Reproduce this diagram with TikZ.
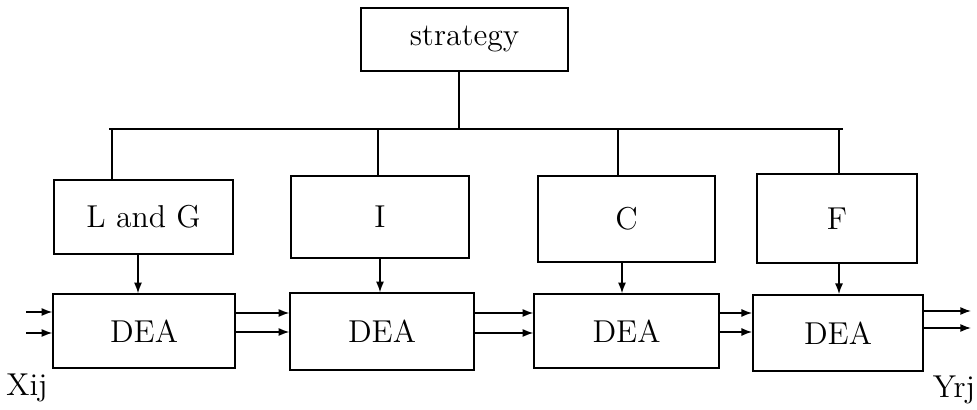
\documentclass[tikz,border=0pt]{standalone}
\usepackage{tikz}
\usetikzlibrary{arrows.meta,positioning,calc}

\begin{document}
\begin{tikzpicture}[x=0.015cm, y=-0.015cm,
                font=\fontsize{13.5}{15.5}\selectfont,
                blk/.style={draw, line width=0.6pt, inner sep=0pt, align=center},
                link/.style={line width=0.6pt},
                bus/.style={-{Latex[length=1.6mm,width=1.2mm]}, line width=0.6pt},
                mainbus/.style={line width=0.9pt}
            ]
            \useasboundingbox (0,0) rectangle (977,410);
            % top level
            \node[blk, minimum width=3.1cm, minimum height=0.945cm] (strat) at (464.5,39.5) {strategy};
            \coordinate (busL) at (109,129);
            \coordinate (busR) at (843,129);
            % second row
            \node[blk, minimum width=2.685cm, minimum height=1.11cm] (lg) at (143.5,217) {L and G};
            \node[blk, line width=0.75pt, minimum width=2.67cm, minimum height=1.23cm] (ii) at (380,217) {I};
            \node[blk, minimum width=2.655cm, minimum height=1.29cm] (cc) at (626.5,219) {C};
            \node[blk, line width=0.75pt, minimum width=2.4cm, minimum height=1.335cm] (ff) at (837,218.5) {F};
            % DEA chain
            \node[blk, minimum width=2.73cm, minimum height=1.11cm] (dea1) at (144,331) {DEA};
            \node[blk, minimum width=2.76cm, minimum height=1.155cm] (dea2) at (382,331.5) {DEA};
            \node[blk, minimum width=2.775cm, minimum height=1.11cm] (dea3) at (626.5,331) {DEA};
            \node[blk, line width=0.75pt, minimum width=2.55cm, minimum height=1.14cm] (dea4) at (838,333) {DEA};
            \node (xin) at (27,388) {Xij};
            \node (yout) at (954,390) {Yrj};
            \coordinate (in1) at (26,312);
            \coordinate (in2) at (26,333);
            \coordinate (out1) at (971,311);
            \coordinate (out2) at (971,328);
            % tree
            \draw[link] (strat.south -| 459,0) -- (busL -| 459,0);
            \draw[mainbus] (busL) -- (busR);
            \draw[link] (busL -| 112,0) -- (lg.north -| 112,0);
            \draw[link] (busL -| 378,0) -- (ii.north -| 378,0);
            \draw[link] (busL -| 618,0) -- (cc.north -| 618,0);
            \draw[link] (busL -| 839,0) -- (ff.north -| 839,0);
            \draw[bus] (lg.south -| 138,0) -- (dea1.north -| 138,0);
            \draw[bus] (ii.south -| 380,0) -- (dea2.north -| 380,0);
            \draw[bus] (cc.south -| 622,0) -- (dea3.north -| 622,0);
            \draw[bus] (ff.south -| 839,0) -- (dea4.north -| 839,0);
            % flows
            \draw[bus] (in1) -- (dea1.west |- in1);
            \draw[bus] (in2) -- (dea1.west |- in2);
            \draw[bus] (dea1.east |- 0,313) -- (dea2.west |- 0,313);
            \draw[bus] (dea1.east |- 0,332) -- (dea2.west |- 0,332);
            \draw[bus] (dea2.east |- 0,313) -- (dea3.west |- 0,313);
            \draw[bus] (dea2.east |- 0,333) -- (dea3.west |- 0,333);
            \draw[bus] (dea3.east |- 0,313) -- (dea4.west |- 0,313);
            \draw[bus] (dea3.east |- 0,332) -- (dea4.west |- 0,332);
            \draw[bus] (dea4.east |- out1) -- (out1);
            \draw[bus] (dea4.east |- out2) -- (out2);
        \end{tikzpicture}
\end{document}
